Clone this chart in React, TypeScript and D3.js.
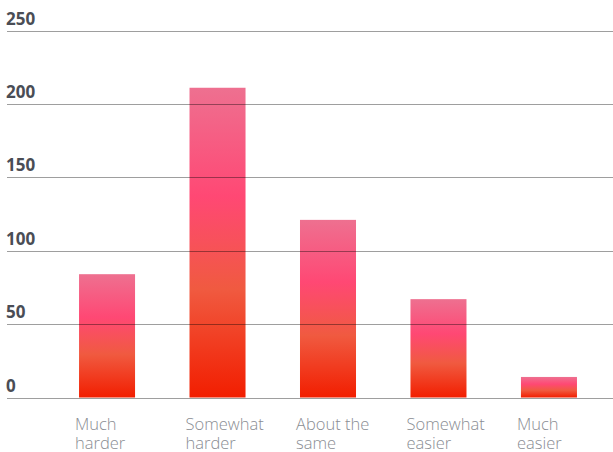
import React from "react";
import * as d3 from "d3";

const categories = ["Much harder", "Somewhat harder", "About the same", "Somewhat easier", "Much easier"];
const labelLines = [["Much", "harder"], ["Somewhat", "harder"], ["About the", "same"], ["Somewhat", "easier"], ["Much", "easier"]];
const values = [84, 211, 121, 67, 14];
const yTicks = [0, 50, 100, 150, 200, 250];

const W = 613;
const H = 452;

export default function App() {
  const x = d3
    .scaleBand<string>()
    .domain(categories)
    .range([51.8, 604.2])
    .paddingInner(0.493)
    .paddingOuter(0.2465);
  const y = d3.scaleLinear().domain([0, 250]).range([397.5, 30.5]);

  return (
    <svg
      width={W}
      height={H}
      style={{ position: "absolute", left: 0, top: 0, display: "block" }}
    >
      <defs>
        <linearGradient id="barGrad" x1="0" y1="0" x2="0" y2="1">
          <stop offset="0%" stopColor="#ee7090" />
          <stop offset="35%" stopColor="#ff4874" />
          <stop offset="65%" stopColor="#f05a40" />
          <stop offset="100%" stopColor="#f21e00" />
        </linearGradient>
      </defs>
      <rect x={0} y={0} width={W} height={H} fill="#ffffff" />
      {categories.map((c, i) => (
        <rect
          key={c}
          x={x(c)}
          y={y(values[i])}
          width={x.bandwidth()}
          height={y(0) - y(values[i])}
          fill="url(#barGrad)"
        />
      ))}
      {yTicks.map((t) => (
        <g key={t}>
          <line
            x1={7}
            x2={W}
            y1={Math.round(y(t)) + 0.5}
            y2={Math.round(y(t)) + 0.5}
            stroke="#000"
            strokeOpacity={0.38}
            strokeWidth={1.2}
          />
          <text
            x={6}
            y={y(t) - 6}
            fontFamily="'Open Sans', sans-serif"
            fontWeight={700}
            fontSize={17}
            fill="#4a4d55"
          >
            {t}
          </text>
        </g>
      ))}
      {categories.map((c, i) =>
        labelLines[i].map((l, j) => (
          <text
            key={c + j}
            x={(x(c) as number) - 4}
            y={430 + j * 19}
            fontFamily="'Open Sans', sans-serif"
            fontWeight={300}
            fontSize={16.5}
            fill="#8a8d93"
          >
            {l}
          </text>
        ))
      )}
    </svg>
  );
}
